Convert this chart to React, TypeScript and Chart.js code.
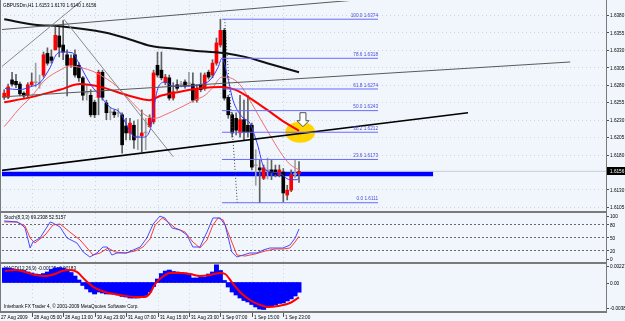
import React, { useEffect, useRef } from "react";
import { Chart, registerables } from "chart.js";

Chart.register(...registerables);

// ---------------- data ----------------
const symbolHeader = "GBPUSDm,H1 1.6153 1.6170 1.6140 1.6156";
const stochHeader = "Stoch(8,3,3) 69.2308 52.5157";
const macdHeader = "MACD(12,26,9) -0.00125 -0.00183";
const footerText = "Interbank FX Trader 4, \u00a9 2001-2009 MetaQuotes Software Corp.";

const opens = [1.6262,1.6262,1.6287,1.6285,1.6281,1.6268,1.6265,1.6280,1.6284,1.6283,
  1.6294,1.6325,1.6320,1.6330,1.6350,1.6337,1.6323,1.6308,1.6323,1.6308,
  1.6290,1.6268,1.6265,1.6255,1.6262,1.6298,1.6254,1.6240,1.6241,1.6239,
  1.6237,1.6221,1.6211,1.6222,1.6205,1.6207,1.6211,1.6220,1.6227,1.6308,
  1.6301,1.6283,1.6290,1.6261,1.6280,1.6281,1.6284,1.6283,1.6281,1.6258,
  1.6280,1.6275,1.6298,1.6294,1.6311,1.6337,1.6358,1.6262,1.6237,1.6232,
  1.6211,1.6230,1.6222,1.6222,1.6165,1.6161,1.6146,1.6157,1.6158,1.6158,
  1.6151,1.6155,1.6122,1.6129,1.6151,1.6153];
const highs = [1.6273,1.6281,1.6298,1.6295,1.6284,1.6270,1.6283,1.6297,1.6311,1.6294,
  1.6327,1.6333,1.6330,1.6363,1.6363,1.6372,1.6330,1.6323,1.6330,1.6312,
  1.6292,1.6280,1.6273,1.6258,1.6301,1.6301,1.6258,1.6247,1.6244,1.6246,
  1.6240,1.6232,1.6232,1.6228,1.6230,1.6244,1.6232,1.6237,1.6301,1.6327,
  1.6327,1.6295,1.6294,1.6283,1.6287,1.6285,1.6287,1.6298,1.6297,1.6280,
  1.6297,1.6297,1.6301,1.6316,1.6347,1.6374,1.6361,1.6265,1.6240,1.6240,
  1.6265,1.6258,1.6265,1.6225,1.6187,1.6172,1.6165,1.6175,1.6172,1.6165,
  1.6165,1.6160,1.6136,1.6158,1.6172,1.6170];
const lows = [1.6259,1.6260,1.6278,1.6276,1.6264,1.6261,1.6262,1.6278,1.6277,1.6275,
  1.6291,1.6308,1.6311,1.6330,1.6320,1.6316,1.6264,1.6305,1.6291,1.6285,
  1.6258,1.6258,1.6234,1.6233,1.6237,1.6258,1.6230,1.6230,1.6233,1.6234,
  1.6182,1.6201,1.6201,1.6189,1.6187,1.6184,1.6187,1.6219,1.6224,1.6291,
  1.6287,1.6280,1.6258,1.6258,1.6272,1.6277,1.6275,1.6278,1.6255,1.6255,
  1.6270,1.6272,1.6288,1.6290,1.6308,1.6334,1.6258,1.6232,1.6205,1.6208,
  1.6205,1.6201,1.6205,1.6158,1.6136,1.6111,1.6144,1.6145,1.6144,1.6148,
  1.6148,1.6112,1.6115,1.6127,1.6147,1.6140];
const closes = [1.6268,1.6277,1.6281,1.6280,1.6267,1.6264,1.6280,1.6284,1.6283,1.6282,
  1.6323,1.6311,1.6315,1.6351,1.6334,1.6327,1.6308,1.6318,1.6294,1.6290,
  1.6265,1.6270,1.6237,1.6237,1.6298,1.6262,1.6240,1.6241,1.6237,1.6240,
  1.6194,1.6211,1.6225,1.6201,1.6206,1.6211,1.6212,1.6232,1.6297,1.6294,
  1.6290,1.6291,1.6261,1.6270,1.6275,1.6280,1.6278,1.6281,1.6258,1.6275,
  1.6273,1.6294,1.6291,1.6311,1.6340,1.6358,1.6261,1.6237,1.6211,1.6215,
  1.6230,1.6212,1.6212,1.6162,1.6164,1.6158,1.6161,1.6158,1.6154,1.6152,
  1.6158,1.6125,1.6129,1.6151,1.6153,1.6156];

// moving averages: [bar, price]
const maBlack = [[0,1.6374],[7.8,1.6366],[14.2,1.6364],[25.6,1.6355],[32,1.6345],[37.1,1.6336],[44.7,1.6331],[49.8,1.6328],[56.7,1.6325],[61.3,1.6320],[66.9,1.6311],[75,1.6298]];
const maRedSlow = [[0,1.6255],[6.6,1.6262],[14.2,1.6273],[19.3,1.6281],[24.4,1.6277],[32,1.6264],[37.1,1.6258],[39.6,1.6264],[44.7,1.6270],[49.8,1.6275],[55.4,1.6277],[58.7,1.6273],[62.5,1.6261],[66.9,1.6244],[70.9,1.6228],[75,1.6214]];
const maRedFast = [[0,1.6220],[1.5,1.6230],[4,1.6247],[6.6,1.6261],[10.4,1.6287],[14.2,1.6301],[16.7,1.6307],[19.3,1.6305],[23.1,1.6298],[25.6,1.6290],[28.2,1.6280],[32,1.6258],[35.8,1.6237],[38.4,1.6232],[40.9,1.6237],[44.7,1.6247],[48.5,1.6258],[51.1,1.6265],[52.9,1.6275],[55.4,1.6291],[57.5,1.6290],[60,1.6280],[62.5,1.6258],[65.1,1.6232],[67.6,1.6208],[70.2,1.6184],[72.7,1.6166],[75,1.6158]];
const maBlue = [[0.2,1.6275],[4,1.6273],[6.6,1.6277],[9.1,1.6283],[11.7,1.6305],[13.2,1.6323],[14.7,1.6327],[17.3,1.6326],[18.8,1.6313],[20.6,1.6294],[22.3,1.6278],[24.4,1.6264],[26.9,1.6248],[29.5,1.6240],[31.2,1.6222],[33.3,1.6205],[35.3,1.6205],[37.1,1.6215],[38.4,1.6258],[39.1,1.6275],[40.9,1.6284],[42.9,1.6278],[46.5,1.6278],[49.8,1.6280],[52.4,1.6287],[54.4,1.6305],[55.4,1.6318],[56.9,1.6290],[58.2,1.6258],[60.5,1.6234],[62.5,1.6225],[64.3,1.6197],[66.4,1.6158],[69.7,1.6154],[72.7,1.6144],[74.5,1.6144],[75,1.6147]];

// stochastic: [bar, value]
const stochMain = [[0,87.8],[3.3,85.5],[4.5,78.5],[5.3,71.6],[6.6,25.4],[7.3,39.3],[9.1,48.5],[11.7,85.5],[12.4,83.1],[14.2,73.9],[16,48.5],[18.5,37],[20.1,16.2],[21.8,4.6],[23.6,13.9],[25.1,27.7],[26.2,27.7],[27.4,9.2],[28.7,13.9],[31.2,13.9],[32.8,20.8],[34.6,27.7],[36.3,48.5],[37.9,80.8],[39.6,99],[40.9,94.7],[42.7,71.6],[44.7,67],[46.5,55.4],[48,27.7],[49.8,27.7],[51.6,62.4],[53.1,94.7],[54.9,94.7],[56.2,78.5],[57.9,16.2],[59.2,4.6],[60.8,9.2],[62.5,13.9],[64.3,13.9],[65.9,20.8],[67.6,25.4],[70.9,25.4],[72.7,32.3],[74,48],[75,69.23]];
const stochSignal = [[0,85.5],[3.3,85.5],[5.3,76.2],[6.6,48.5],[7.8,37],[10.4,55.4],[12.4,78.5],[14.2,80.8],[16.7,62.4],[19.3,43.9],[21.1,25.4],[22.6,9.2],[24.4,13.9],[26.4,25.4],[28.2,16.2],[30.7,13.9],[33.3,18.5],[35.3,27.7],[37.1,46.2],[38.4,78.5],[40.2,94.7],[41.7,85.5],[43.5,71.6],[46,62.4],[48,39.3],[49.8,25.4],[51.6,43.9],[53.1,78.5],[54.4,94.7],[55.7,90.1],[57.5,48.5],[59.2,9.2],[61.3,6.9],[63.8,11.5],[66.4,18.5],[68.9,23.1],[70.9,23.1],[72.7,25.4],[74,39.3],[75,52.52]];
const stochLevels = [80, 50, 20];

// MACD
const macdHist = [0.00186,0.00186,0.00179,0.00167,0.00160,0.00154,0.00135,0.00122,0.00109,0.00103,
  0.00115,0.00135,0.00167,0.00186,0.00192,0.00186,0.00160,0.00128,0.00083,0.00032,
  -0.00038,-0.00083,-0.00122,-0.00147,-0.00122,-0.00135,-0.00147,-0.00147,-0.00147,-0.00160,
  -0.00179,-0.00186,-0.00199,-0.00199,-0.00199,-0.00186,-0.00167,-0.00122,-0.00051,0.00045,
  0.00115,0.00147,0.00160,0.00141,0.00135,0.00128,0.00122,0.00103,0.00058,0.00058,
  0.00070,0.00070,0.00109,0.00135,0.00227,0.00154,0.00026,-0.00058,-0.00122,-0.00160,
  -0.00199,-0.00231,-0.00250,-0.00282,-0.00314,-0.00340,-0.00346,-0.00320,-0.00301,-0.00288,
  -0.00269,-0.00263,-0.00237,-0.00211,-0.00173,-0.00125];
const macdSignal = [[0.2,0.00147],[2.7,0.00160],[5.3,0.00135],[7.8,0.00096],[10.4,0.00083],[12.9,0.00109],[14.7,0.00147],[16.7,0.00160],[18.5,0.00135],[20.6,0.00032],[23.1,-0.00070],[25.6,-0.00122],[29.5,-0.00160],[33.3,-0.00186],[35.8,-0.00186],[37.1,-0.00135],[38.4,-0.00019],[40.2,0.00070],[42.2,0.00122],[44.7,0.00122],[47.3,0.00109],[49.8,0.00083],[52.4,0.00096],[54.9,0.00122],[56.2,0.00109],[57.9,0.00006],[60,-0.00122],[62.5,-0.00224],[65.1,-0.00288],[67.1,-0.00314],[69.7,-0.00301],[72.7,-0.00263],[75,-0.00190]];

// drawn objects
const fibLevels = [100, 78.6, 61.8, 50, 38.2, 23.6, 0];
const fibPrices = [1.6374, 1.6318, 1.6274, 1.6243, 1.6212, 1.6173, 1.6111];
const fibBars = [55.4, 95.1];
const fibBaseLine = [[56.1, 1.6374], [59.3, 1.6111]];
const trendTop = [[-1.07, 1.6359], [90.5, 1.6402]];
const trendUpLeft = [[-1.07, 1.6304], [19.8, 1.6401]];
const trendDownLeft = [[15.2, 1.6374], [43.0, 1.6177]];
const trendMid = [[-1.07, 1.62625], [144, 1.63127]];
const trendSupport = [[-1.07, 1.6157], [118, 1.6240]];
const blueLevel = [[-1.07, 1.6152], [109.1, 1.6152]];
const bidLine = [[-2, 1.6156], [160, 1.6156]];
const lastPrice = 1.6156;
const ellipseCorners = [[71.5, 1.6227], [79.1, 1.6197]];
const arrowTip = [76.0, 1.6240];

// axis ticks
const priceTicks = [1.6380, 1.6355, 1.6330, 1.6305, 1.6280, 1.6255, 1.6230, 1.6205, 1.6180, 1.6130, 1.6105];
const stochTicks = [100, 80, 50, 20, 0];
const macdTicks = [0.00227, 0, -0.00382];
const macdTickLabels = ["0.00227", "0.00", "-0.00382"];
const timeTickBars = [0, 7, 15, 23, 31, 39, 47, 55, 63, 71];
const timeTickLabels = ["27 Aug 2009", "28 Aug 05:00", "28 Aug 13:00", "30 Aug 23:00", "31 Aug 07:00", "31 Aug 15:00", "31 Aug 23:00", "1 Sep 07:00", "1 Sep 15:00", "1 Sep 23:00"];

// ---------------- drawing ----------------
const W = 625, H = 321;
const BG = "#f0f6fb";

function txt(ctx: any, s: string, x: number, y: number, align: any = "left", color = "#000", size = 6, sx = 0.78) {
  ctx.save();
  ctx.font = `${size}px "Liberation Sans", Arial, sans-serif`;
  ctx.fillStyle = color;
  ctx.textBaseline = "middle";
  ctx.textAlign = align;
  ctx.translate(x, y);
  ctx.scale(sx, 1);
  ctx.fillText(s, 0, 0);
  ctx.restore();
}

const pts = (a: number[][]) => a.map(([x, y]) => ({ x, y }));

function lineDs(a: number[][], color: string, width: number, order: number, axis = "y", extra: any = {}) {
  return {
    type: "line", data: pts(a), borderColor: color, borderWidth: width, pointRadius: 0,
    fill: false, tension: 0, order, yAxisID: axis, ...extra,
  };
}

const mt4Plugin = {
  id: "mt4",
  beforeDraw(chart: any) {
    const { ctx } = chart;
    ctx.save();
    ctx.fillStyle = BG;
    ctx.fillRect(0, 0, chart.width, chart.height);
    ctx.restore();
  },
  beforeDatasetsDraw(chart: any) {
    const { ctx, chartArea: ca } = chart;
    const { x, y, yS, yM } = chart.scales;
    ctx.save();
    ctx.lineWidth = 1;
    ctx.strokeStyle = "rgba(140,155,170,0.35)";
    ctx.setLineDash([1, 3]);
    ctx.beginPath();
    for (const p of priceTicks) {
      const py = Math.round(y.getPixelForValue(p)) + 0.5;
      ctx.moveTo(ca.left, py); ctx.lineTo(ca.right, py);
    }
    for (const b of timeTickBars.slice(1)) {
      const px = Math.round(x.getPixelForValue(b)) + 0.5;
      ctx.moveTo(px, ca.top); ctx.lineTo(px, ca.bottom);
    }
    ctx.stroke();
    ctx.strokeStyle = "#6a6a6a";
    ctx.setLineDash([2, 2]);
    ctx.beginPath();
    for (const v of stochLevels) {
      const py = Math.round(yS.getPixelForValue(v)) + 0.5;
      ctx.moveTo(ca.left, py); ctx.lineTo(ca.right, py);
    }
    ctx.stroke();
    ctx.setLineDash([]);
    const ex0 = x.getPixelForValue(ellipseCorners[0][0]);
    const ex1 = x.getPixelForValue(ellipseCorners[1][0]);
    const ey0 = y.getPixelForValue(ellipseCorners[0][1]);
    const ey1 = y.getPixelForValue(ellipseCorners[1][1]);
    ctx.fillStyle = "#ffd400";
    ctx.beginPath();
    ctx.ellipse((ex0 + ex1) / 2, (ey0 + ey1) / 2, Math.abs(ex1 - ex0) / 2, Math.abs(ey1 - ey0) / 2, 0, 0, Math.PI * 2);
    ctx.fill();
    txt(ctx, stochHeader, ca.left + 2, yS.top + 5);
    txt(ctx, macdHeader, ca.left + 2, yM.top + 5);
    txt(ctx, footerText, ca.left + 2, yM.bottom - 6);
    ctx.restore();
  },
  afterDatasetsDraw(chart: any) {
    const { ctx, chartArea: ca } = chart;
    const { x, y, yS, yM } = chart.scales;
    ctx.save();
    const fx = x.getPixelForValue(fibBars[1]);
    fibLevels.forEach((lv, k) => {
      const py = y.getPixelForValue(fibPrices[k]);
      txt(ctx, `${lv.toFixed(1)} ${fibPrices[k].toFixed(4)}`, fx, py - 4, "right", "#4a4ae0");
    });
    const ax = x.getPixelForValue(arrowTip[0]);
    const ay = y.getPixelForValue(arrowTip[1]);
    ctx.beginPath();
    ctx.moveTo(ax - 3, ay); ctx.lineTo(ax + 3, ay); ctx.lineTo(ax + 3, ay + 8); ctx.lineTo(ax + 6, ay + 8);
    ctx.lineTo(ax, ay + 14); ctx.lineTo(ax - 6, ay + 8); ctx.lineTo(ax - 3, ay + 8); ctx.closePath();
    ctx.fillStyle = "#ffffff"; ctx.fill();
    ctx.strokeStyle = "#505050"; ctx.lineWidth = 1; ctx.stroke();
    txt(ctx, symbolHeader, ca.left + 1, 5);
    ctx.fillStyle = "#7a7a7a";
    for (const sc of [y, yS, yM]) ctx.fillRect(0, Math.round(sc.bottom) - 1, Math.round(ca.right) + 1, 2);
    ctx.fillRect(Math.round(ca.right), 0, 1, Math.round(yM.bottom));
    ctx.fillRect(0, 0, 1, Math.round(yM.bottom));
    const rx = Math.round(ca.right);
    const axisLabel = (sc: any, v: number, s: string) => {
      let py = sc.getPixelForValue(v);
      py = Math.max(sc.top + 3, Math.min(sc.bottom - 4, py));
      ctx.fillStyle = "#505050";
      ctx.fillRect(rx + 1, Math.round(py), 2, 1);
      txt(ctx, s, rx + 4, py + 0.5);
    };
    priceTicks.forEach((p) => axisLabel(y, p, p.toFixed(4)));
    stochTicks.forEach((v) => axisLabel(yS, v, String(v)));
    macdTicks.forEach((v, k) => axisLabel(yM, v, macdTickLabels[k]));
    const cp = y.getPixelForValue(lastPrice);
    ctx.fillStyle = "#000";
    ctx.fillRect(rx + 1, Math.round(cp) - 4, W - rx - 1, 8);
    txt(ctx, lastPrice.toFixed(4), rx + 4, cp + 0.5, "left", "#fff");
    const by = Math.round(yM.bottom);
    timeTickLabels.forEach((lab, k) => {
      if (k === 0) { txt(ctx, lab, 1, by + 5.5); return; }
      const px = Math.round(x.getPixelForValue(timeTickBars[k]));
      ctx.fillStyle = "#505050";
      ctx.fillRect(px, by + 1, 1, 4);
      txt(ctx, lab, px + 2, by + 5.5);
    });
    ctx.restore();
  },
};

export default function App() {
  const ref = useRef<HTMLCanvasElement | null>(null);
  useEffect(() => {
    const canvas = ref.current;
    if (!canvas) return;
    const idx = opens.map((_, i) => i);
    const isDoji = (i: number) => Math.abs(closes[i] - opens[i]) < 0.00025;
    const bodyColor = idx.map((i) => (isDoji(i) ? "#a0a0a0" : closes[i] > opens[i] ? "#ff0000" : "#000000"));
    const wickColor = idx.map((i) => (isDoji(i) ? "#a0a0a0" : "#606060"));

    const datasets: any[] = [
      lineDs(bidLine, "#c6ccd3", 1, 100),
      lineDs(blueLevel, "#a8bcff", 6, 96),
      lineDs(blueLevel, "#0000ff", 4, 95),
      {
        type: "bar", data: idx.map((i) => ({ x: i, y: [lows[i], highs[i]] })), backgroundColor: wickColor,
        barThickness: 1, grouped: false, minBarLength: 1, order: 90, yAxisID: "y",
      },
      {
        type: "bar", data: idx.map((i) => ({ x: i, y: [opens[i], closes[i]] })), backgroundColor: bodyColor,
        barThickness: 3, grouped: false, minBarLength: 1, order: 89, yAxisID: "y",
      },
      lineDs(maBlack, "#111111", 2, 70, "y", { cubicInterpolationMode: "monotone" }),
      lineDs(maRedFast, "#f07070", 1, 69, "y", { cubicInterpolationMode: "monotone" }),
      lineDs(maRedSlow, "#ff0000", 2, 68, "y", { cubicInterpolationMode: "monotone" }),
      lineDs(maBlue, "#3a3aff", 1, 67, "y", { cubicInterpolationMode: "monotone" }),
      lineDs(trendTop, "#5a5a5a", 1, 50),
      lineDs(trendUpLeft, "#8a8a8a", 1, 50),
      lineDs(trendDownLeft, "#8a8a8a", 1, 50),
      lineDs(trendMid, "#5a5a5a", 1, 50),
      lineDs(trendSupport, "#000000", 1.5, 49),
      lineDs(fibBaseLine, "#404040", 1, 45, "y", { borderDash: [1, 2] }),
      ...fibPrices.map((p) => lineDs([[fibBars[0], p], [fibBars[1], p]], "#6a6aff", 1, 40)),
      lineDs(stochSignal, "#ff3a3a", 1, 31, "yS"),
      lineDs(stochMain, "#4a4aff", 1, 30, "yS"),
      {
        type: "bar", data: idx.map((i) => ({ x: i, y: macdHist[i] })), backgroundColor: "#0000ff",
        barThickness: 4.3, grouped: false, order: 21, yAxisID: "yM",
      },
      lineDs(macdSignal, "#ff0000", 2, 20, "yM", { cubicInterpolationMode: "monotone" }),
    ];

    const hiddenY = (weight: number, min: number, max: number) => ({
      type: "linear", position: "right", stack: "panels", stackWeight: weight, min, max,
      ticks: { display: false }, grid: { display: false, drawTicks: false }, border: { display: false },
      afterFit: (s: any) => { s.width = 19; },
    });

    const chart = new Chart(canvas, {
      type: "bar",
      data: { datasets },
      options: {
        animation: false,
        responsive: false,
        maintainAspectRatio: false,
        devicePixelRatio: 1,
        events: [],
        layout: { padding: { left: 2, top: 1, right: 0, bottom: 9 } },
        plugins: { legend: { display: false }, tooltip: { enabled: false } },
        scales: {
          x: { type: "linear", min: -0.56, max: 153.1, offset: false, display: false },
          y: hiddenY(211, 1.60977, 1.64001),
          yS: hiddenY(51, -9.2, 108.5),
          yM: hiddenY(49, -0.00378, 0.0025),
        },
      } as any,
      plugins: [mt4Plugin as any],
    } as any);
    return () => chart.destroy();
  }, []);

  return (
    <div style={{ position: "fixed", left: 0, top: 0, width: W, height: H, background: BG }}>
      <canvas ref={ref} width={W} height={H} style={{ display: "block", width: W, height: H }} />
    </div>
  );
}
